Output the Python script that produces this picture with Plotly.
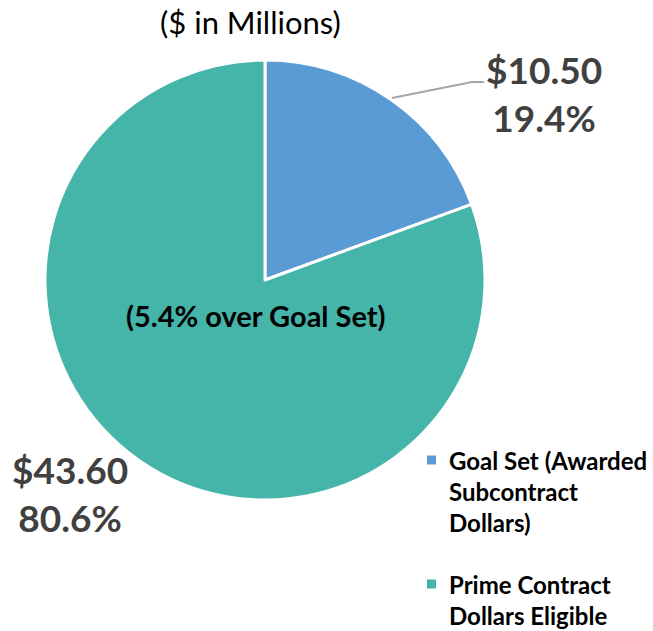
import plotly.graph_objects as go

# Subcontracting goal data ($ in millions)
categories = ["Goal Set (Awarded Subcontract Dollars)", "Prime Contract Dollars Eligible"]
legend_lines = [["Goal Set (Awarded", "Subcontract", "Dollars)"], ["Prime Contract", "Dollars Eligible"]]
values = [10.50, 43.60]
colors = ["#5B9BD5", "#45B5AA"]
title_text = "($ in Millions)"
center_note = "(5.4% over Goal Set)"

W, H = 653, 631
FONT = "Lato, 'Open Sans', sans-serif"


def px(x):
    return x / W


def py(y):
    return 1 - y / H


total = sum(values)
pcts = [v / total * 100 for v in values]

fig = go.Figure()
fig.add_trace(go.Pie(
    labels=categories,
    values=values,
    sort=False,
    direction="clockwise",
    rotation=0,
    marker=dict(colors=colors, line=dict(color="white", width=3)),
    textinfo="none",
    hoverinfo="label+value+percent",
    showlegend=False,
    domain=dict(x=[px(45), px(485)], y=[py(500), py(60)]),
))

annotations = []
shapes = []


def note(x, y, text, size, color, xanchor="center"):
    annotations.append(dict(x=px(x), y=py(y), xref="paper", yref="paper",
                            xanchor=xanchor, yanchor="middle",
                            text=text, showarrow=False,
                            font=dict(family=FONT, size=size, color=color)))


# Title
note(250, 22, title_text, 31, "#000000")

# Data labels: value and percentage
label_pos = [(544, 94), (70, 494)]
for v, p, (lx, ly) in zip(values, pcts, label_pos):
    note(lx, ly, f"<b>${v:.2f}<br>{p:.1f}%</b>", 37, "#404040")

# Leader line for the small slice
shapes.append(dict(type="path", xref="paper", yref="paper",
                   path=f"M {px(392)} {py(98)} L {px(472)} {py(82)} L {px(484)} {py(82)}",
                   line=dict(color="#A6A6A6", width=2)))

# Center note
note(256, 315, f"<b>{center_note}</b>", 29, "#000000")

# Legend built from squares and text lines
legend_tops = [460, 584]
line_gap = 31
for lines, c, top in zip(legend_lines, colors, legend_tops):
    shapes.append(dict(type="rect", xref="paper", yref="paper",
                       x0=px(427), x1=px(436), y0=py(top - 4.5), y1=py(top + 4.5),
                       fillcolor=c, line=dict(width=0)))
    for i, t in enumerate(lines):
        note(447, top + i * line_gap, f"<b>{t}</b>", 24, "#000000", xanchor="left")

fig.update_layout(
    width=W, height=H,
    margin=dict(l=0, r=0, t=0, b=0),
    paper_bgcolor="white", plot_bgcolor="white",
    annotations=annotations, shapes=shapes,
)

fig.write_html("out.html")
